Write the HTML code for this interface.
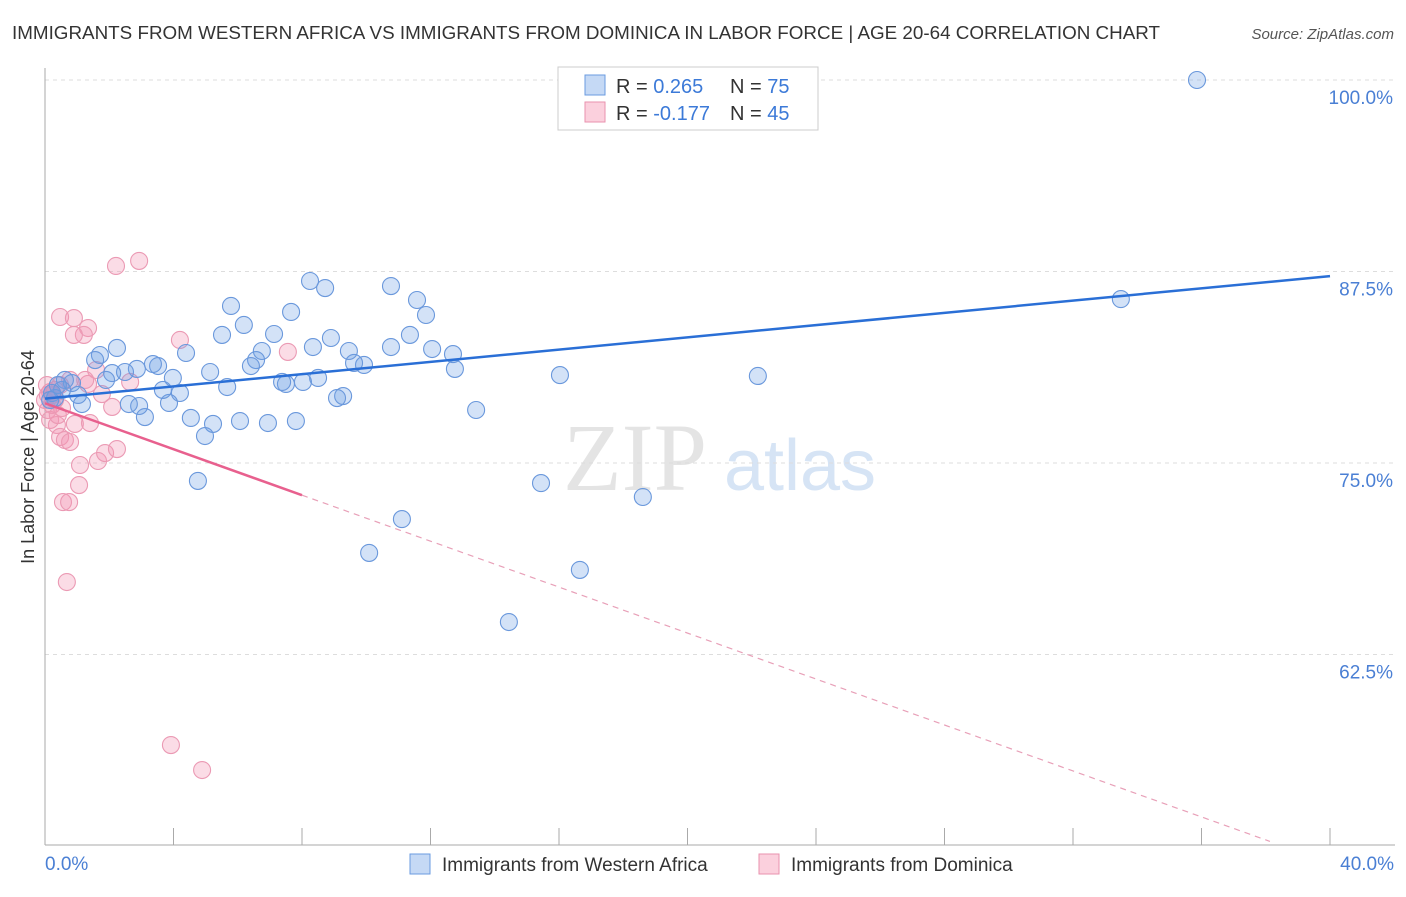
<!DOCTYPE html>
<html><head><meta charset="utf-8"><style>
body{margin:0;background:#fff;font-family:"Liberation Sans",sans-serif}
</style></head><body>
<svg id="c" width="1406" height="892" xmlns="http://www.w3.org/2000/svg" style="font-family:'Liberation Sans',sans-serif">
<text x="12" y="39" font-size="18" fill="#333" textLength="1148" lengthAdjust="spacingAndGlyphs">IMMIGRANTS FROM WESTERN AFRICA VS IMMIGRANTS FROM DOMINICA IN LABOR FORCE | AGE 20-64 CORRELATION CHART</text>
<text x="1394" y="39" font-size="15" fill="#555" font-style="italic" text-anchor="end">Source: ZipAtlas.com</text>
<text x="635" y="490" font-size="96" fill="#e4e4e4" font-family="Liberation Serif,serif" text-anchor="middle">ZIP</text>
<text x="800" y="490" font-size="72" fill="#d6e4f5" text-anchor="middle">atlas</text>
<g id="grid"></g><g id="axes"></g><g id="pts"></g><g id="trend"></g>
<text transform="translate(34,457) rotate(-90)" font-size="18" fill="#333" text-anchor="middle">In Labor Force | Age 20-64</text>
<text x="45" y="870" font-size="19" fill="#4a7fd4">0.0%</text>
<text x="1394" y="870" font-size="19" fill="#4a7fd4" text-anchor="end">40.0%</text>
<g>
<rect x="410" y="854" width="20" height="20" fill="#c5d9f5" stroke="#6a9be0"/>
<text x="442" y="871" font-size="19" fill="#333">Immigrants from Western Africa</text>
<rect x="759" y="854" width="20" height="20" fill="#fbd0dd" stroke="#e892ae"/>
<text x="791" y="871" font-size="19" fill="#333">Immigrants from Dominica</text>
</g>
<g>
<rect x="558" y="67" width="260" height="63" fill="#fff" stroke="#ccc"/>
<rect x="585" y="75" width="20" height="20" fill="#c5d9f5" stroke="#6a9be0"/>
<rect x="585" y="102" width="20" height="20" fill="#fbd0dd" stroke="#e892ae"/>
<text x="616" y="93" font-size="20" fill="#333">R = <tspan fill="#3c7ad8">0.265</tspan><tspan x="730">N = </tspan><tspan fill="#3c7ad8">75</tspan></text>
<text x="616" y="120" font-size="20" fill="#333">R = <tspan fill="#3c7ad8">-0.177</tspan><tspan x="730">N = </tspan><tspan fill="#3c7ad8">45</tspan></text>
</g>
</svg>
<script>
const yTicks=[100,87.5,75,62.5];
const yTickLabels=["100.0%","87.5%","75.0%","62.5%"];
const blueX=[35.86,33.49,22.19,16.03,18.61,15.44,16.65,14.44,11.11,10.09,13.42,12.76,12.70,12.05,11.86,11.58,11.36,10.77,10.77,9.93,9.62,9.46,9.28,9.09,8.90,8.72,8.25,8.34,8.50,8.03,7.81,7.66,7.50,7.38,7.13,6.94,6.75,6.57,6.41,6.19,6.07,5.79,5.67,5.51,5.23,4.98,5.14,4.76,4.54,4.39,4.20,3.98,3.86,3.67,3.52,3.36,3.11,2.93,2.86,2.61,2.49,2.24,2.09,1.90,1.71,1.56,1.15,1.03,0.84,0.62,0.53,0.40,0.31,0.22,0.16];
const blueY=[100.0,85.70,80.68,80.74,72.78,73.69,68.02,64.62,71.34,69.13,78.46,81.14,82.11,82.44,84.66,85.64,83.36,86.55,82.57,81.40,81.53,82.31,79.37,79.24,83.16,86.42,86.88,82.57,80.55,80.29,77.74,84.86,80.16,80.29,83.42,77.61,82.31,81.72,81.33,84.01,77.74,85.25,79.96,83.36,77.55,76.76,80.94,73.83,77.94,82.18,79.57,80.55,78.92,79.77,81.33,81.46,78.00,78.72,81.14,78.85,80.94,82.51,80.87,80.42,82.05,81.72,78.85,79.44,80.22,80.42,79.77,80.09,79.24,79.57,79.11];
const pinkX=[2.93,2.21,0.47,0.90,1.34,1.21,0.90,4.20,7.56,1.59,2.65,1.34,1.77,2.09,0.31,0.22,0.09,0.16,0.37,0.93,1.40,0.47,0.62,0.78,1.09,1.65,1.87,2.24,1.06,0.56,0.75,0.68,3.92,4.89,0.09,0.16,0.31,0.47,0.78,1.25,0.22,0.40,0.0,0.06,0.53];
const pinkY=[88.19,87.86,84.53,84.46,83.81,83.36,83.36,83.03,82.25,81.07,80.29,80.16,79.50,78.66,79.77,79.44,78.46,77.81,77.48,77.55,77.61,76.70,76.50,76.37,74.87,75.13,75.65,75.91,73.56,72.45,72.45,67.23,56.59,54.96,79.44,79.63,79.11,80.09,80.42,80.42,78.79,78.13,79.11,80.09,78.59];
const blueTrend=[0,79.2,40,87.2];
const pinkTrend=[0,78.9,8,72.9,38.13,50.3];
const NS="http://www.w3.org/2000/svg";
function sx(v){return 45+v*32.125;}
function sy(v){return 80+(100-v)*15.32;}
function mk(tag,attrs,parent){const e=document.createElementNS(NS,tag);for(const k in attrs)e.setAttribute(k,attrs[k]);document.getElementById(parent).appendChild(e);return e;}
yTicks.forEach((t,i)=>{
 const l=mk('line',{x1:45,x2:1395,y1:sy(t),y2:sy(t),stroke:'#ddd','stroke-dasharray':'4,4'},'grid');
 
 
 const tx=mk('text',{x:1393,y:sy(t)+24,'font-size':19,fill:'#4a7fd4','text-anchor':'end'},'grid');
 tx.textContent=yTickLabels[i];
 
 
});
const ax=mk('line',{x1:45,x2:1395,y1:845,y2:845,stroke:'#aaa'},'axes');


const ay=mk('line',{x1:45,x2:45,y1:68,y2:845,stroke:'#aaa'},'axes');


for(let i=0;i<=10;i++){
 const t=mk('line',{x1:sx(i*4),x2:sx(i*4),y1:828,y2:845,stroke:'#aaa'},'axes');
 
 
}
pinkX.forEach((x,i)=>{
 const c=mk('circle',{cx:sx(x),cy:sy(pinkY[i]),r:8.5,fill:'rgba(242,150,180,0.33)',stroke:'#eb9ab4','stroke-width':1.1},'pts');
 
 
});
blueX.forEach((x,i)=>{
 const c=mk('circle',{cx:sx(x),cy:sy(blueY[i]),r:8.5,fill:'rgba(110,160,230,0.3)',stroke:'#6a98dc','stroke-width':1.1},'pts');
 
 
});
const bt=mk('line',{x1:sx(blueTrend[0]),y1:sy(blueTrend[1]),x2:sx(blueTrend[2]),y2:sy(blueTrend[3]),stroke:'#2a6fd6','stroke-width':2.5},'trend');


const pt=mk('line',{x1:sx(pinkTrend[0]),y1:sy(pinkTrend[1]),x2:sx(pinkTrend[2]),y2:sy(pinkTrend[3]),stroke:'#e8608e','stroke-width':2.5},'trend');


const pd=mk('line',{x1:sx(pinkTrend[2]),y1:sy(pinkTrend[3]),x2:sx(pinkTrend[4]),y2:sy(pinkTrend[5]),stroke:'#e8a0b8','stroke-width':1.2,'stroke-dasharray':'6,5'},'trend');


</script>
</body></html>
